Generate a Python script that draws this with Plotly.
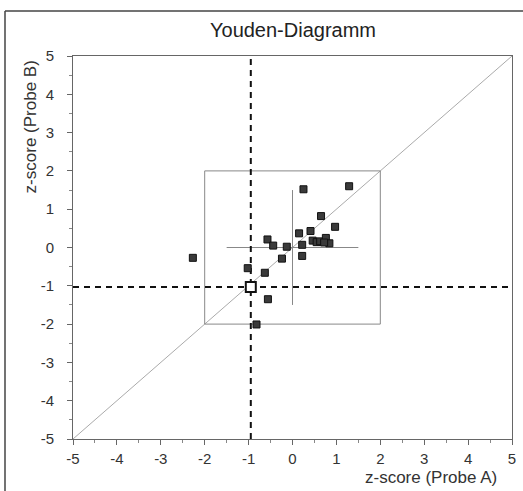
import plotly.graph_objects as go

# Data
z_a = [0.25, 1.29, 0.65, 0.97, 0.15, 0.41, -0.57, -0.44, -0.13, 0.22, 0.46, 0.55,
       0.63, 0.76, 0.84, 0.72, 0.22, -0.24, -1.02, -0.63, -0.56, -0.82, -2.27]
z_b = [1.52, 1.60, 0.82, 0.54, 0.37, 0.43, 0.21, 0.05, 0.02, 0.07, 0.18, 0.14,
       0.16, 0.25, 0.11, 0.13, -0.22, -0.29, -0.54, -0.66, -1.35, -2.01, -0.27]
own_a = [-0.95]
own_b = [-1.03]
axis_ticks = [-5, -4, -3, -2, -1, 0, 1, 2, 3, 4, 5]
box_limit = 2.0
cross_center = (0.0, 0.0)
cross_half = 1.5

FONT = "Liberation Sans, Arial, sans-serif"

fig = go.Figure()

# diagonal line
fig.add_trace(go.Scatter(x=[axis_ticks[0], axis_ticks[-1]], y=[axis_ticks[0], axis_ticks[-1]],
                         mode="lines", line=dict(color="#aaaaaa", width=1),
                         hoverinfo="skip", showlegend=False))
# +-2 box
fig.add_trace(go.Scatter(x=[-box_limit, box_limit, box_limit, -box_limit, -box_limit],
                         y=[-box_limit, -box_limit, box_limit, box_limit, -box_limit],
                         mode="lines", line=dict(color="#888888", width=1),
                         hoverinfo="skip", showlegend=False))
# cross
cx, cy = cross_center
fig.add_trace(go.Scatter(x=[cx - cross_half, cx + cross_half, None, cx, cx],
                         y=[cy, cy, None, cy - cross_half, cy + cross_half],
                         mode="lines", line=dict(color="#888888", width=1),
                         hoverinfo="skip", showlegend=False))
# dashed lines through own result
fig.add_trace(go.Scatter(x=[own_a[0], own_a[0], None, axis_ticks[0], axis_ticks[-1]],
                         y=[axis_ticks[0], axis_ticks[-1], None, own_b[0], own_b[0]],
                         mode="lines", line=dict(color="#111111", width=2, dash="6px,5px"),
                         hoverinfo="skip", showlegend=False))
# participants
fig.add_trace(go.Scatter(x=z_a, y=z_b, mode="markers",
                         marker=dict(symbol="square", size=7, color="#3a3a3a",
                                     line=dict(color="#111111", width=1)),
                         showlegend=False))
# own result
fig.add_trace(go.Scatter(x=own_a, y=own_b, mode="markers",
                         marker=dict(symbol="square", size=10, color="white",
                                     line=dict(color="#111111", width=2)),
                         showlegend=False))

axis_common = dict(range=[axis_ticks[0], axis_ticks[-1]], tickvals=axis_ticks,
                   ticktext=[str(v) for v in axis_ticks], automargin=False,
                   showgrid=False, zeroline=False, showline=True, mirror=True,
                   linecolor="#666666", linewidth=1,
                   ticks="outside", ticklen=5, tickcolor="#666666",
                   minor=dict(dtick=0.5, ticks="outside", ticklen=3, tickcolor="#888888"),
                   tickfont=dict(family=FONT, size=15, color="#333333"))

fig.update_xaxes(**axis_common, ticklabelstandoff=1)
fig.update_yaxes(**axis_common, ticklabelstandoff=10)

fig.update_layout(
    width=523, height=491,
    margin=dict(l=73, r=11, t=56, b=52),
    paper_bgcolor="white", plot_bgcolor="white",
    font=dict(family=FONT, color="#333333"),
    annotations=[
        dict(text="Youden-Diagramm", xref="paper", yref="paper", x=0.5, y=1.068,
             xanchor="center", yanchor="middle", showarrow=False,
             font=dict(family=FONT, size=20, color="#222222")),
        dict(text="z-score (Probe A)", xref="paper", yref="paper", x=0.97, y=-0.1,
             xanchor="right", yanchor="middle", showarrow=False,
             font=dict(family=FONT, size=17, color="#333333")),
        dict(text="z-score (Probe B)", xref="paper", yref="paper", x=-0.098, y=0.995,
             xanchor="center", yanchor="top", textangle=-90, showarrow=False,
             font=dict(family=FONT, size=17, color="#333333")),
    ],
    shapes=[
        dict(type="line", xref="paper", yref="paper", x0=-0.1549, x1=-0.1549,
             y0=-0.14, y1=1.1175, line=dict(color="#444444", width=1.5)),
        dict(type="line", xref="paper", yref="paper", x0=-0.1549, x1=1.03,
             y0=1.1175, y1=1.1175, line=dict(color="#444444", width=1.5)),
    ],
)

fig.write_html("out.html", post_script="document.body.style.margin='0';",
               config={"displayModeBar": False})
